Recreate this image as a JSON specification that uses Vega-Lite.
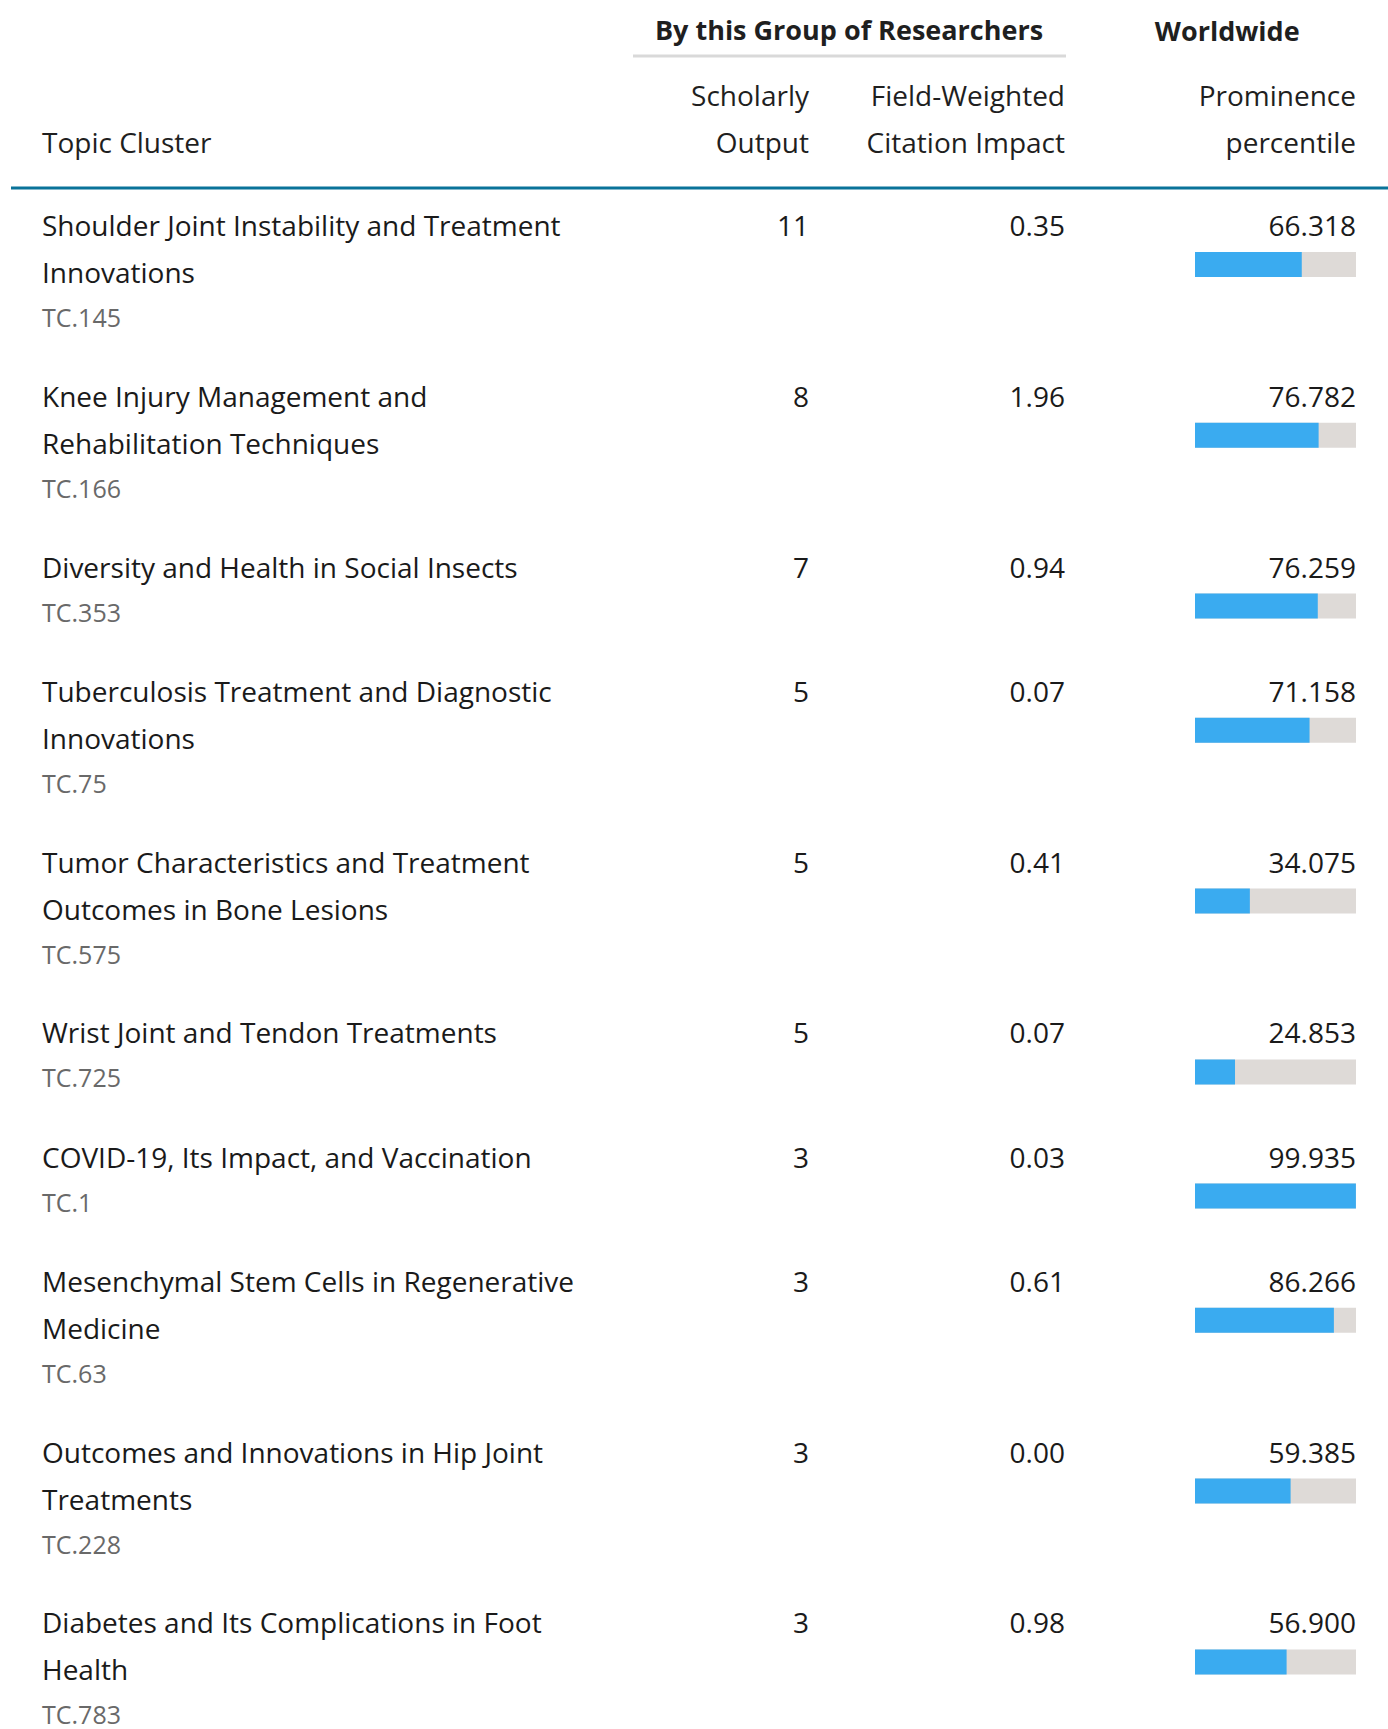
{
  "$schema": "https://vega.github.io/schema/vega-lite/v6.json",
  "padding": {"left": 9, "right": 2, "top": 0, "bottom": 0},
  "autosize": {"type": "pad"},
  "background": "#ffffff",
  "spacing": 0,
  "bounds": "flush",
  "config": {"view": {"stroke": null}, "font": "Open Sans", "concat": {"spacing": 0}},
  "data": {"values": [
    {"topic": "Shoulder Joint Instability and Treatment\nInnovations", "code": "TC.145", "output": 11, "fwci": 0.35, "prominence": 66.318},
    {"topic": "Knee Injury Management and\nRehabilitation Techniques", "code": "TC.166", "output": 8, "fwci": 1.96, "prominence": 76.782},
    {"topic": "Diversity and Health in Social Insects", "code": "TC.353", "output": 7, "fwci": 0.94, "prominence": 76.259},
    {"topic": "Tuberculosis Treatment and Diagnostic\nInnovations", "code": "TC.75", "output": 5, "fwci": 0.07, "prominence": 71.158},
    {"topic": "Tumor Characteristics and Treatment\nOutcomes in Bone Lesions", "code": "TC.575", "output": 5, "fwci": 0.41, "prominence": 34.075},
    {"topic": "Wrist Joint and Tendon Treatments", "code": "TC.725", "output": 5, "fwci": 0.07, "prominence": 24.853},
    {"topic": "COVID-19, Its Impact, and Vaccination", "code": "TC.1", "output": 3, "fwci": 0.03, "prominence": 99.935},
    {"topic": "Mesenchymal Stem Cells in Regenerative\nMedicine", "code": "TC.63", "output": 3, "fwci": 0.61, "prominence": 86.266},
    {"topic": "Outcomes and Innovations in Hip Joint\nTreatments", "code": "TC.228", "output": 3, "fwci": 0.0, "prominence": 59.385},
    {"topic": "Diabetes and Its Complications in Foot\nHealth", "code": "TC.783", "output": 3, "fwci": 0.98, "prominence": 56.9}
  ]},
  "transform": [
    {"calculate": "length(split(datum.topic, '\\n'))", "as": "nTitle"},
    {"calculate": "datum.nTitle + 1", "as": "nLines"},
    {"window": [{"op": "sum", "field": "nLines", "as": "cumAll"}, {"op": "row_number", "as": "idx"}], "frame": [null, 0]},
    {"calculate": "236 + 46.6 * (datum.cumAll - datum.nLines) + 31 * (datum.idx - 1)", "as": "base"},
    {"calculate": "datum.base + 44 + 47 * (datum.nTitle - 1)", "as": "tcY"},
    {"calculate": "datum.base + 16", "as": "barTop"},
    {"calculate": "datum.base + 41", "as": "barBot"},
    {"calculate": "0", "as": "zero"},
    {"calculate": "100", "as": "full"}
  ],
  "hconcat": [
    {
      "width": 622,
      "height": 1729,
      "layer": [
        {
          "data": {"values": [{}]},
          "mark": {"type": "rule", "color": "#0a7399", "strokeWidth": 3},
          "encoding": {
            "y": {"datum": 188, "type": "quantitative", "scale": {"domain": [0, 1729], "range": [0, 1729], "nice": false, "zero": false}, "axis": null}
          }
        },
        {
          "data": {"values": [{}]},
          "mark": {"type": "text", "text": "Topic Cluster", "fontSize": 28, "align": "left", "baseline": "alphabetic", "color": "#1f1f1f"},
          "encoding": {
            "x": {"datum": 31, "type": "quantitative", "scale": {"domain": [0, 622], "range": [0, 622], "nice": false, "zero": false}, "axis": null},
            "y": {"datum": 153, "type": "quantitative", "scale": {"domain": [0, 1729], "range": [0, 1729], "nice": false, "zero": false}, "axis": null}
          }
        },
        {
          "mark": {"type": "text", "fontSize": 28, "align": "left", "baseline": "alphabetic", "lineBreak": "\n", "lineHeight": 47, "color": "#1a1a1a"},
          "encoding": {
            "x": {"datum": 31, "type": "quantitative", "scale": {"domain": [0, 622], "range": [0, 622], "nice": false, "zero": false}, "axis": null},
            "y": {"field": "base", "type": "quantitative", "scale": {"domain": [0, 1729], "range": [0, 1729], "nice": false, "zero": false}, "axis": null},
            "text": {"field": "topic", "type": "nominal"}
          }
        },
        {
          "mark": {"type": "text", "fontSize": 25, "align": "left", "baseline": "alphabetic", "color": "#696969"},
          "encoding": {
            "x": {"datum": 31, "type": "quantitative", "scale": {"domain": [0, 622], "range": [0, 622], "nice": false, "zero": false}, "axis": null},
            "y": {"field": "tcY", "type": "quantitative", "scale": {"domain": [0, 1729], "range": [0, 1729], "nice": false, "zero": false}, "axis": null},
            "text": {"field": "code", "type": "nominal"}
          }
        }
      ]
    },
    {
      "width": 433,
      "height": 1729,
      "layer": [
        {
          "data": {"values": [{}]},
          "mark": {"type": "rule", "color": "#0a7399", "strokeWidth": 3},
          "encoding": {
            "y": {"datum": 188, "type": "quantitative", "scale": {"domain": [0, 1729], "range": [0, 1729], "nice": false, "zero": false}, "axis": null}
          }
        },
        {
          "data": {"values": [{}]},
          "mark": {"type": "rule", "color": "#d9d9d9", "strokeWidth": 3},
          "encoding": {
            "y": {"datum": 56, "type": "quantitative", "scale": {"domain": [0, 1729], "range": [0, 1729], "nice": false, "zero": false}, "axis": null}
          }
        },
        {
          "data": {"values": [{}]},
          "mark": {"type": "text", "text": "By this Group of Researchers", "fontWeight": "bold", "fontSize": 27, "align": "center", "baseline": "alphabetic", "color": "#1f1f1f"},
          "encoding": {
            "x": {"datum": 216, "type": "quantitative", "scale": {"domain": [0, 433], "range": [0, 433], "nice": false, "zero": false}, "axis": null},
            "y": {"datum": 40, "type": "quantitative", "scale": {"domain": [0, 1729], "range": [0, 1729], "nice": false, "zero": false}, "axis": null}
          }
        },
        {
          "data": {"values": [{}]},
          "mark": {"type": "text", "text": ["Scholarly", "Output"], "lineHeight": 47, "fontSize": 28, "align": "right", "baseline": "alphabetic", "color": "#1f1f1f"},
          "encoding": {
            "x": {"datum": 176, "type": "quantitative", "scale": {"domain": [0, 433], "range": [0, 433], "nice": false, "zero": false}, "axis": null},
            "y": {"datum": 106, "type": "quantitative", "scale": {"domain": [0, 1729], "range": [0, 1729], "nice": false, "zero": false}, "axis": null}
          }
        },
        {
          "data": {"values": [{}]},
          "mark": {"type": "text", "text": ["Field-Weighted", "Citation Impact"], "lineHeight": 47, "fontSize": 28, "align": "right", "baseline": "alphabetic", "color": "#1f1f1f"},
          "encoding": {
            "x": {"datum": 432, "type": "quantitative", "scale": {"domain": [0, 433], "range": [0, 433], "nice": false, "zero": false}, "axis": null},
            "y": {"datum": 106, "type": "quantitative", "scale": {"domain": [0, 1729], "range": [0, 1729], "nice": false, "zero": false}, "axis": null}
          }
        },
        {
          "mark": {"type": "text", "fontSize": 28, "align": "right", "baseline": "alphabetic", "color": "#1a1a1a"},
          "encoding": {
            "x": {"datum": 176, "type": "quantitative", "scale": {"domain": [0, 433], "range": [0, 433], "nice": false, "zero": false}, "axis": null},
            "y": {"field": "base", "type": "quantitative", "scale": {"domain": [0, 1729], "range": [0, 1729], "nice": false, "zero": false}, "axis": null},
            "text": {"field": "output", "type": "quantitative", "format": "d"}
          }
        },
        {
          "mark": {"type": "text", "fontSize": 28, "align": "right", "baseline": "alphabetic", "color": "#1a1a1a"},
          "encoding": {
            "x": {"datum": 432, "type": "quantitative", "scale": {"domain": [0, 433], "range": [0, 433], "nice": false, "zero": false}, "axis": null},
            "y": {"field": "base", "type": "quantitative", "scale": {"domain": [0, 1729], "range": [0, 1729], "nice": false, "zero": false}, "axis": null},
            "text": {"field": "fwci", "type": "quantitative", "format": ".2f"}
          }
        }
      ]
    },
    {
      "width": 322,
      "height": 1729,
      "layer": [
        {
          "data": {"values": [{}]},
          "mark": {"type": "rule", "color": "#0a7399", "strokeWidth": 3},
          "encoding": {
            "y": {"datum": 188, "type": "quantitative", "scale": {"domain": [0, 1729], "range": [0, 1729], "nice": false, "zero": false}, "axis": null}
          }
        },
        {
          "data": {"values": [{}]},
          "mark": {"type": "text", "text": "Worldwide", "fontWeight": "bold", "fontSize": 27, "align": "center", "baseline": "alphabetic", "color": "#1f1f1f"},
          "encoding": {
            "x": {"datum": 20, "type": "quantitative", "scale": {"domain": [0, 100], "range": [129, 290], "nice": false, "zero": false}, "axis": null},
            "y": {"datum": 41, "type": "quantitative", "scale": {"domain": [0, 1729], "range": [0, 1729], "nice": false, "zero": false}, "axis": null}
          }
        },
        {
          "data": {"values": [{}]},
          "mark": {"type": "text", "text": ["Prominence", "percentile"], "lineHeight": 47, "fontSize": 28, "align": "right", "baseline": "alphabetic", "color": "#1f1f1f"},
          "encoding": {
            "x": {"datum": 100, "type": "quantitative", "scale": {"domain": [0, 100], "range": [129, 290], "nice": false, "zero": false}, "axis": null},
            "y": {"datum": 106, "type": "quantitative", "scale": {"domain": [0, 1729], "range": [0, 1729], "nice": false, "zero": false}, "axis": null}
          }
        },
        {
          "mark": {"type": "text", "fontSize": 28, "align": "right", "baseline": "alphabetic", "color": "#1a1a1a"},
          "encoding": {
            "x": {"datum": 100, "type": "quantitative", "scale": {"domain": [0, 100], "range": [129, 290], "nice": false, "zero": false}, "axis": null},
            "y": {"field": "base", "type": "quantitative", "scale": {"domain": [0, 1729], "range": [0, 1729], "nice": false, "zero": false}, "axis": null},
            "text": {"field": "prominence", "type": "quantitative", "format": ".3f"}
          }
        },
        {
          "mark": {"type": "rect", "color": "#dedad7"},
          "encoding": {
            "x": {"field": "zero", "type": "quantitative", "scale": {"domain": [0, 100], "range": [129, 290], "nice": false, "zero": false}, "axis": null},
            "x2": {"field": "full"},
            "y": {"field": "barTop", "type": "quantitative", "scale": {"domain": [0, 1729], "range": [0, 1729], "nice": false, "zero": false}, "axis": null},
            "y2": {"field": "barBot"}
          }
        },
        {
          "mark": {"type": "rect", "color": "#3aabf0"},
          "encoding": {
            "x": {"field": "zero", "type": "quantitative", "scale": {"domain": [0, 100], "range": [129, 290], "nice": false, "zero": false}, "axis": null},
            "x2": {"field": "prominence"},
            "y": {"field": "barTop", "type": "quantitative", "scale": {"domain": [0, 1729], "range": [0, 1729], "nice": false, "zero": false}, "axis": null},
            "y2": {"field": "barBot"}
          }
        }
      ]
    }
  ]
}
